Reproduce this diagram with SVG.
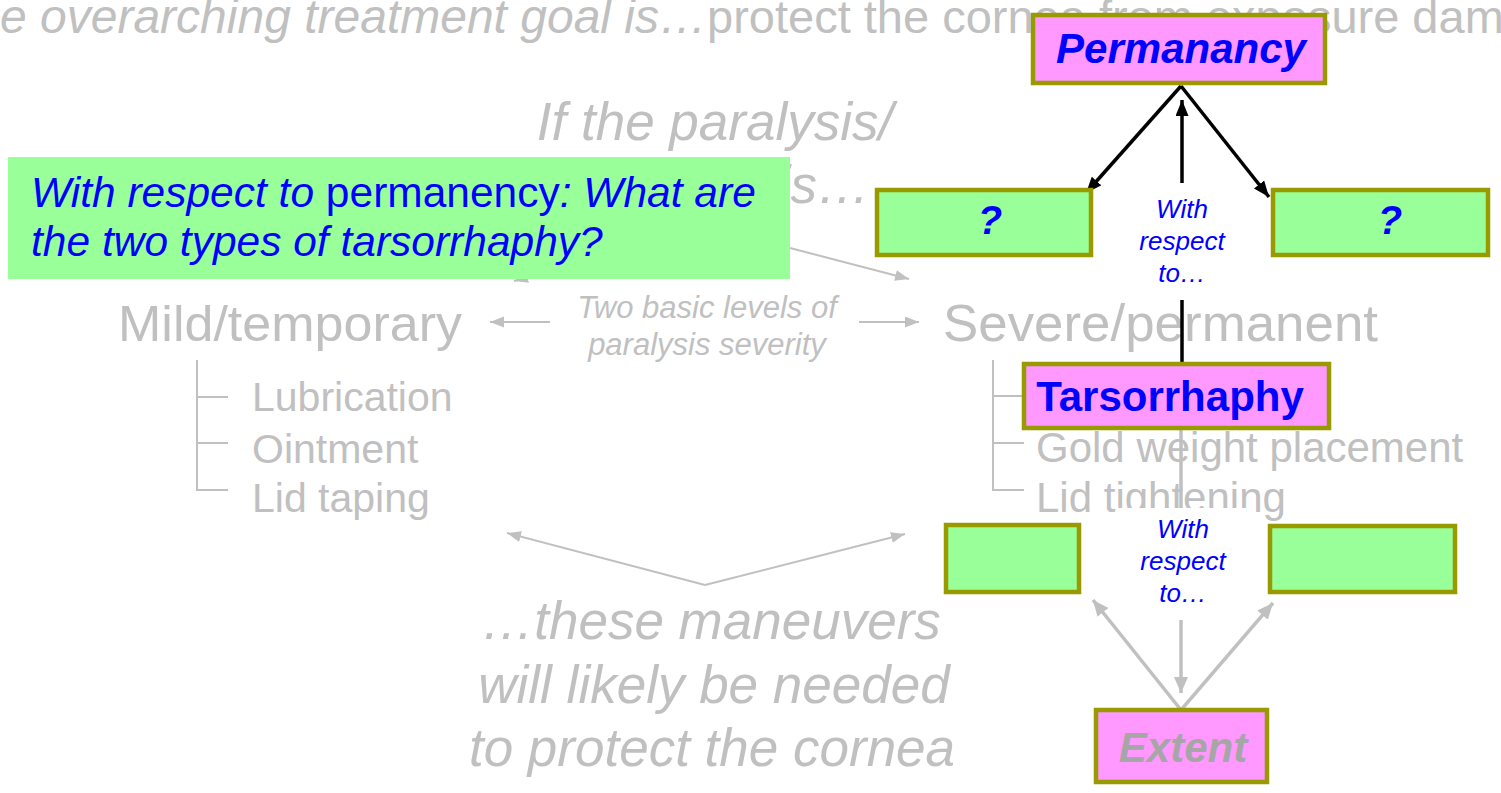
<svg xmlns="http://www.w3.org/2000/svg" width="1501" height="793" viewBox="0 0 1501 793">
  <style>
    text { font-family: "Liberation Sans", Arial, sans-serif; }
    .bg { fill: #C0C0C0; }
    .it { font-style: italic; }
    .node-pink { fill: #FF99FF; stroke: #999900; stroke-width: 4.5; }
    .node-green { fill: #99FF99; stroke: #999900; stroke-width: 4.5; }
    .node-label { fill: #0000FF; font-weight: bold; }
    .tree { fill: none; stroke: #C0C0C0; stroke-width: 2; }
    .thin { fill: none; stroke: #C0C0C0; stroke-width: 2; marker-end: url(#headGraySmall); }
    .thick { fill: none; stroke: #C0C0C0; stroke-width: 3.5; marker-end: url(#headGray); }
    .dark { fill: none; stroke: #000000; stroke-width: 3.5; marker-end: url(#headBlack); }
    .wrt { fill: #0000FF; font-style: italic; font-size: 26px; text-anchor: middle; }
  </style>
  <defs>
    <marker id="headBlack" markerUnits="userSpaceOnUse" markerWidth="17" markerHeight="14" refX="16" refY="6.5" orient="auto">
      <path d="M0,0 L16,6.5 L0,13 z" fill="#000000"/>
    </marker>
    <marker id="headGray" markerUnits="userSpaceOnUse" markerWidth="17" markerHeight="15" refX="16" refY="7" orient="auto">
      <path d="M0,0 L16,7 L0,14 z" fill="#C0C0C0"/>
    </marker>
    <marker id="headGraySmall" markerUnits="userSpaceOnUse" markerWidth="15" markerHeight="12" refX="14" refY="5.5" orient="auto">
      <path d="M0,0 L14,5.5 L0,11 z" fill="#C0C0C0"/>
    </marker>
  </defs>

  <rect width="1501" height="793" fill="#FFFFFF"/>

  <!-- background outline text -->
  <g id="background-text">
    <text class="bg it" x="0" y="33" font-size="48">e overarching treatment goal is…</text>
    <text class="bg" x="707" y="33" font-size="47">protect the cornea from exposure dam</text>
    <text class="bg it" x="715" y="140" font-size="53" text-anchor="middle">If the paralysis/</text>
    <text class="bg it" x="870" y="203" font-size="53" text-anchor="end">is…</text>
    <text class="bg" x="118" y="341" font-size="50" textLength="344" lengthAdjust="spacingAndGlyphs">Mild/temporary</text>
    <text class="bg" x="943" y="341" font-size="52" textLength="435" lengthAdjust="spacingAndGlyphs">Severe/permanent</text>
    <text class="bg it" x="707" y="318" font-size="31" text-anchor="middle">Two basic levels of</text>
    <text class="bg it" x="707" y="355" font-size="31" text-anchor="middle">paralysis severity</text>
    <text class="bg" x="252" y="411" font-size="41">Lubrication</text>
    <text class="bg" x="252" y="463" font-size="41">Ointment</text>
    <text class="bg" x="252" y="512" font-size="41">Lid taping</text>
    <text class="bg" x="1036" y="462" font-size="42">Gold weight placement</text>
    <text class="bg" x="1036" y="512" font-size="42">Lid tightening</text>
    <text class="bg it" x="711" y="639" font-size="53" text-anchor="middle">…these maneuvers</text>
    <text class="bg it" x="714" y="703" font-size="53" text-anchor="middle">will likely be needed</text>
    <text class="bg it" x="712" y="766" font-size="53" text-anchor="middle">to protect the cornea</text>
  </g>

  <!-- bracket trees under each severity level -->
  <g id="trees">
    <path class="tree" d="M197,360 V490 H228 M197,397 H228 M197,443 H228"/>
    <path class="tree" d="M993,360 V490 H1024 M993,396 H1024 M993,443 H1024"/>
  </g>

  <!-- connectors -->
  <g id="connectors">
    <path class="thin" d="M550,322 H490"/>
    <path class="thin" d="M859,322 H919"/>
    <path class="thin" d="M790,248 L909,279"/>
    <path class="thin" d="M640,248 L514,281"/>
    <path class="thin" d="M705,585 L507,533"/>
    <path class="thin" d="M705,585 L905,534"/>
    <path class="thick" d="M1181,428 V693"/>
    <path class="thick" d="M1181,710 L1093,600"/>
    <path class="thick" d="M1181,710 L1273,603"/>
    <path class="dark" d="M1182,363 V100"/>
    <path class="dark" d="M1181,86 L1086,193"/>
    <path class="dark" d="M1181,86 L1269,197"/>
  </g>

  <!-- edge labels -->
  <g id="label-upper">
    <rect x="1117" y="183" width="130" height="117" fill="#FFFFFF"/>
    <text class="wrt" x="1182" y="218">With</text>
    <text class="wrt" x="1182" y="250">respect</text>
    <text class="wrt" x="1182" y="282">to…</text>
  </g>
  <g id="label-lower">
    <rect x="1116" y="508" width="130" height="112" fill="#FFFFFF"/>
    <text class="wrt" x="1183" y="538">With</text>
    <text class="wrt" x="1183" y="570">respect</text>
    <text class="wrt" x="1183" y="602">to…</text>
  </g>

  <!-- nodes -->
  <g id="node-permanancy">
    <rect class="node-pink" x="1033" y="15" width="292" height="68"/>
    <text class="node-label it" x="1181" y="63" font-size="42" text-anchor="middle">Permanancy</text>
  </g>
  <g id="node-type-left">
    <rect class="node-green" x="877" y="190" width="214" height="65"/>
    <text class="node-label it" x="990" y="234" font-size="40" text-anchor="middle">?</text>
  </g>
  <g id="node-type-right">
    <rect class="node-green" x="1273" y="190" width="215" height="65"/>
    <text class="node-label it" x="1390" y="234" font-size="40" text-anchor="middle">?</text>
  </g>
  <g id="node-tarsorrhaphy">
    <rect class="node-pink" x="1024" y="364" width="305" height="64"/>
    <text class="node-label" x="1170" y="411" font-size="42" text-anchor="middle">Tarsorrhaphy</text>
  </g>
  <g id="node-extent-left">
    <rect class="node-green" x="946" y="525" width="133" height="67"/>
  </g>
  <g id="node-extent-right">
    <rect class="node-green" x="1270" y="526" width="185" height="66"/>
  </g>
  <g id="node-extent">
    <rect class="node-pink" x="1096" y="710" width="171" height="72"/>
    <text x="1183" y="762" font-size="42" font-weight="bold" font-style="italic" fill="#A6A6A6" text-anchor="middle">Extent</text>
  </g>

  <!-- question card -->
  <g id="question">
    <rect x="8" y="157" width="782" height="122" fill="#99FF99"/>
    <text x="31" y="207" font-size="42.5" fill="#0000FF"><tspan font-style="italic">With respect to</tspan> permanency<tspan font-style="italic">: What are</tspan></text>
    <text x="31" y="256" font-size="42.5" fill="#0000FF" font-style="italic">the two types of tarsorrhaphy?</text>
  </g>
</svg>
